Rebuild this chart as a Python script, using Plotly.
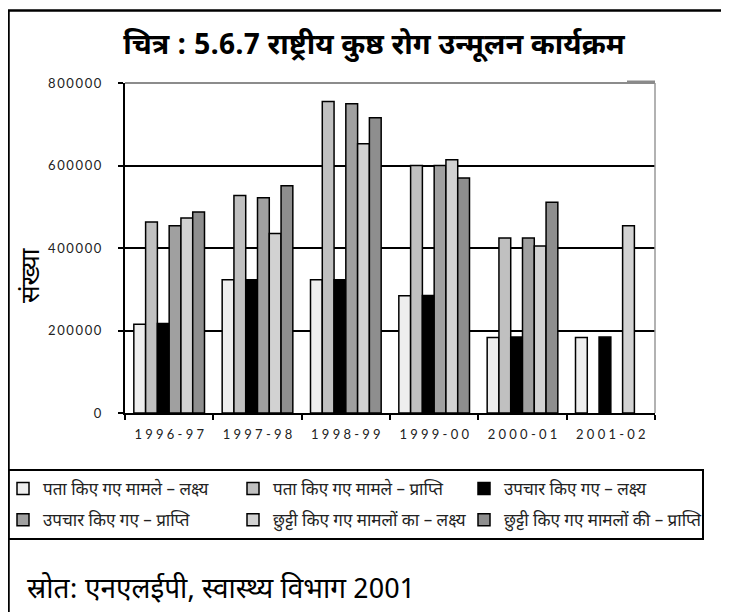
import plotly.graph_objects as go

# ---------------- data ----------------
categories = ["1996-97", "1997-98", "1998-99", "1999-00", "2000-01", "2001-02"]

detected_target = [215000, 323000, 323000, 284000, 183000, 183000]
detected_achieved = [463000, 527000, 755000, 600000, 424000, None]
treated_target = [217000, 323000, 323000, 285000, 184000, 184000]
treated_achieved = [454000, 522000, 750000, 600000, 424000, None]
discharged_target = [473000, 435000, 653000, 614000, 405000, 454000]
discharged_achieved = [487000, 551000, 716000, 570000, 511000, None]

series_names = [
    "पता किए गए मामले – लक्ष्य",
    "पता किए गए मामले – प्राप्ति",
    "उपचार किए गए – लक्ष्य",
    "उपचार किए गए – प्राप्ति",
    "छुट्टी किए गए मामलों का – लक्ष्य",
    "छुट्टी किए गए मामलों की – प्राप्ति",
]
series_values = [detected_target, detected_achieved, treated_target,
                 treated_achieved, discharged_target, discharged_achieved]
series_colors = ["#EEEEEE", "#C0C0C0", "#000000", "#A0A0A0", "#D2D2D2", "#8E8E8E"]
legend_ids = ["legend", "legend2", "legend3", "legend", "legend2", "legend3"]

y_tick_vals = [0, 200000, 400000, 600000, 800000]
y_tick_text = ["0", "200000", "400000", "600000", "800000"]

title_text = "चित्र : 5.6.7 राष्ट्रीय कुष्ठ रोग उन्मूलन कार्यक्रम"
y_title = "संख्या"
source_text = "स्रोत: एनएलईपी, स्वास्थ्य विभाग 2001"

# ---------------- layout helpers ----------------
OFF = 8                      # page body margin
W, H = 729 - OFF, 612 - OFF
L, R, T, B = 125, 655, 83, 413  # plot area in screen px
PW, PH = R - L, B - T


def px_x(x):
    return (x - L) / PW


def px_y(y):
    return (B - y) / PH


def spaced(s, gap="\u2009"):
    return gap.join(list(s))


DEV = "Noto Sans Devanagari, Lohit Devanagari, Mangal, Noto Sans, sans-serif"
NUM = "Lato, Open Sans, sans-serif"

fig = go.Figure()
for i, (name, vals, col, lg) in enumerate(zip(series_names, series_values,
                                               series_colors, legend_ids)):
    fig.add_trace(go.Bar(
        x=categories, y=vals, name=name, legendgroup="g%d" % i,
        marker=dict(color=col, line=dict(color="#000000", width=1.5)),
        legend=lg,
    ))

legend_common = dict(
    orientation="v", xanchor="left", yanchor="top",
    bgcolor="rgba(0,0,0,0)", borderwidth=0,
    font=dict(family=DEV, size=17, color="#222222"),
    traceorder="grouped", tracegroupgap=6,
)

fig.update_layout(
    width=W, height=H,
    margin=dict(l=L - OFF, r=W - (R - OFF), t=T - OFF, b=H - (B - OFF),
                autoexpand=False),
    paper_bgcolor="white", plot_bgcolor="white",
    barmode="group", bargap=0.2, bargroupgap=0,
    title=dict(text="<b>" + title_text + "</b>", x=(374 - OFF) / W,
               xanchor="center", y=1 - (44 - OFF) / H, yanchor="middle",
               font=dict(family=DEV, size=29, color="#000000")),
    showlegend=True,
    legend=dict(x=px_x(3), y=px_y(471), **legend_common),
    legend2=dict(x=px_x(233), y=px_y(471), **legend_common),
    legend3=dict(x=px_x(464), y=px_y(471), **legend_common),
    xaxis=dict(
        type="category", tickson="boundaries", ticks="outside", ticklen=5,
        tickwidth=1.5, tickcolor="#000000",
        showline=True, linecolor="#000000", linewidth=2,
        tickvals=categories, ticktext=[spaced(c, "\u2005") for c in categories],
        tickfont=dict(family=NUM, size=13, color="#222222"),
        ticklabelstandoff=8, showgrid=False,
    ),
    yaxis=dict(
        range=[0, 800000], tickvals=y_tick_vals,
        ticktext=[spaced(t) for t in y_tick_text],
        ticks="outside", ticklen=5, tickwidth=1.5, tickcolor="#000000",
        showline=True, linecolor="#000000", linewidth=2,
        showgrid=True, gridcolor="#000000", gridwidth=1.5,
        zeroline=False,
        tickfont=dict(family=NUM, size=13, color="#222222"),
        ticklabelstandoff=14,
    ),
)

# y axis title
fig.add_annotation(text=y_title, xref="paper", yref="paper",
                   x=px_x(33), y=px_y(275), textangle=-90, showarrow=False,
                   xanchor="center", yanchor="middle",
                   font=dict(family=DEV, size=26, color="#000000"))
# source note
fig.add_annotation(text=source_text, xref="paper", yref="paper",
                   x=px_x(25), y=px_y(590), showarrow=False,
                   xanchor="left", yanchor="middle",
                   font=dict(family=DEV, size=28, color="#000000"))

# frame & decorations
fig.add_shape(type="rect", xref="paper", yref="paper",
              x0=px_x(8.5), x1=px_x(900), y0=px_y(800), y1=px_y(10.5),
              line=dict(color="#000000", width=2.5), layer="above")
fig.add_shape(type="rect", xref="paper", yref="paper",
              x0=px_x(8.5), x1=px_x(703), y0=px_y(539), y1=px_y(470),
              line=dict(color="#000000", width=2), layer="above")
fig.add_shape(type="line", xref="paper", yref="paper",
              x0=0, x1=1, y0=1, y1=1,
              line=dict(color="#8c8c8c", width=2), layer="above")
fig.add_shape(type="line", xref="paper", yref="paper",
              x0=1, x1=1, y0=0, y1=1,
              line=dict(color="#999999", width=1.5), layer="above")
fig.add_shape(type="line", xref="paper", yref="paper",
              x0=px_x(627), x1=1, y0=px_y(82), y1=px_y(82),
              line=dict(color="#8a8a8a", width=3), layer="above")

fig.write_html("out.html")
